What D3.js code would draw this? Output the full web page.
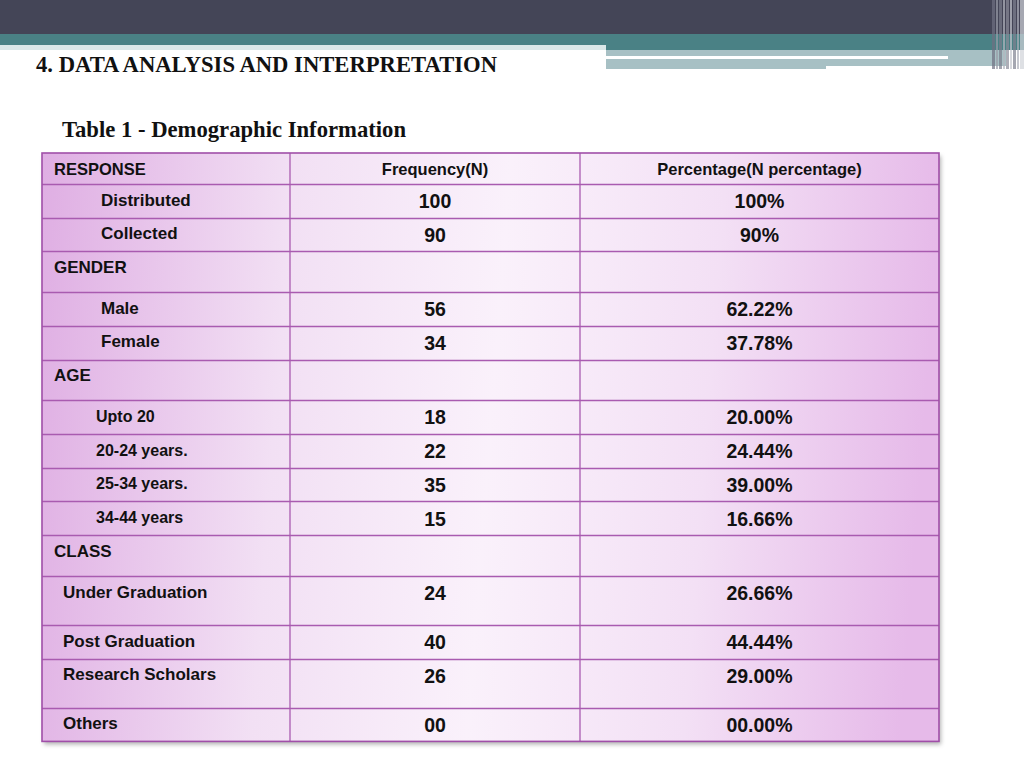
<!DOCTYPE html>
<html>
<head>
<meta charset="utf-8">
<script src="https://cdn.jsdelivr.net/npm/d3@7"></script>
<style>
  body { margin: 0; background: #fff; }
  svg { display: block; }
</style>
</head>
<body>
<div id="chart"></div>
<script>
// table content
var columns = ['RESPONSE', 'Frequency(N)', 'Percentage(N percentage)'];

var labels = ['Distributed', 'Collected', 'GENDER', 'Male', 'Female', 'AGE',
    'Upto 20', '20-24 years.', '25-34 years.', '34-44 years', 'CLASS',
    'Under Graduation', 'Post Graduation', 'Research Scholars', 'Others'];

// row kind: section heading, item, or item with an extra tall cell
var kinds = ['item', 'item', 'section', 'item', 'item', 'section',
    'item', 'item', 'item', 'item', 'section',
    'tall', 'item', 'tall', 'item'];

// which group the row belongs to (drives the label indent)
var groups = ['response', 'response', 'gender', 'gender', 'gender', 'age',
    'age', 'age', 'age', 'age', 'class',
    'class', 'class', 'class', 'class'];

var frequency = ['100', '90', '', '56', '34', '', '18', '22', '35', '15', '',
    '24', '40', '26', '00'];

var percentage = ['100%', '90%', '', '62.22%', '37.78%', '', '20.00%', '24.44%',
    '39.00%', '16.66%', '', '26.66%', '44.44%', '29.00%', '00.00%'];

var width = 1024, height = 768;

var svg = d3.select('#chart').append('svg')
    .attr('width', width)
    .attr('height', height);

var defs = svg.append('defs');

var grad = defs.append('linearGradient')
    .attr('id', 'cellFill')
    .attr('gradientUnits', 'userSpaceOnUse')
    .attr('x1', 42).attr('y1', 153)
    .attr('x2', 939).attr('y2', 220);
grad.append('stop').attr('offset', '0%').attr('stop-color', '#dfaee3');
grad.append('stop').attr('offset', '28%').attr('stop-color', '#f2e0f4');
grad.append('stop').attr('offset', '52%').attr('stop-color', '#faf1fb');
grad.append('stop').attr('offset', '76%').attr('stop-color', '#f3e0f5');
grad.append('stop').attr('offset', '100%').attr('stop-color', '#e6bae9');

var shadow = defs.append('filter').attr('id', 'shadow')
    .attr('x', '-5%').attr('y', '-5%').attr('width', '110%').attr('height', '110%');
shadow.append('feDropShadow')
    .attr('dx', 2).attr('dy', 3).attr('stdDeviation', 2)
    .attr('flood-color', '#000').attr('flood-opacity', 0.3);

// ---- slide header bands ----
var head = svg.append('g');
head.append('rect').attr('x', 0).attr('y', 0).attr('width', width).attr('height', 35).attr('fill', '#444557');
head.append('rect').attr('x', 0).attr('y', 34).attr('width', width).attr('height', 16).attr('fill', '#4a8185');
head.append('rect').attr('x', 606).attr('y', 50).attr('width', 400).attr('height', 19).attr('fill', '#a7c0c4');
head.append('rect').attr('x', 606).attr('y', 56).attr('width', 342).attr('height', 3).attr('fill', '#ffffff');
head.append('rect').attr('x', 826).attr('y', 66).attr('width', 180).attr('height', 4).attr('fill', '#ffffff');
head.append('rect').attr('x', 0).attr('y', 45).attr('width', 606).attr('height', 40).attr('fill', '#ffffff');
head.append('rect').attr('x', 0).attr('y', 45).attr('width', 606).attr('height', 5).attr('fill', '#dbe7e8');

// vertical stripes at the right edge
var stripes = [
    {x: 992, w: 3, c: '#6f7181'}, {x: 996, w: 2, c: '#9a9ca8'}, {x: 999, w: 3, c: '#7b7d8c'},
    {x: 1003, w: 2, c: '#b3b6bf'}, {x: 1006, w: 3, c: '#8a8c99'}, {x: 1010, w: 2, c: '#c5c8cf'},
    {x: 1013, w: 3, c: '#7f8190'}, {x: 1017, w: 2, c: '#aeb1bb'}, {x: 1020, w: 4, c: '#d0d3d9'}
];
head.selectAll('rect.stripe')
    .data(stripes)
    .join('rect')
    .attr('class', 'stripe')
    .attr('x', function(d) { return d.x; })
    .attr('y', 0)
    .attr('width', function(d) { return d.w; })
    .attr('height', 69)
    .attr('fill', function(d) { return d.c; })
    .attr('opacity', 0.7);

svg.append('text')
    .attr('x', 36)
    .attr('y', 72)
    .attr('font-family', '"Liberation Serif", "Times New Roman", serif')
    .attr('font-weight', 'bold')
    .attr('font-size', '23px')
    .attr('textLength', 461)
    .attr('lengthAdjust', 'spacingAndGlyphs')
    .attr('fill', '#111')
    .text('4. DATA ANALYSIS AND INTERPRETATION');

svg.append('text')
    .attr('x', 62)
    .attr('y', 137)
    .attr('font-family', '"Liberation Serif", "Times New Roman", serif')
    .attr('font-weight', 'bold')
    .attr('font-size', '23px')
    .attr('textLength', 344)
    .attr('lengthAdjust', 'spacingAndGlyphs')
    .attr('fill', '#111')
    .text('Table 1 - Demographic Information');

// ---- table ----
var rowHeight = {header: 31, item: 33.7, section: 40.8, tall: 49};
var indent = {response: 59, gender: 59, age: 54, 'class': 21};

var rows = labels.map(function(l, i) {
    return {label: l, kind: kinds[i], group: groups[i], freq: frequency[i], pct: percentage[i]};
});

var tableTop = 153;
var yPos = [tableTop + rowHeight.header];
rows.forEach(function(r, i) {
    r.y = yPos[i];
    r.h = rowHeight[r.kind];
    yPos.push(r.y + r.h);
});
var tableBottom = yPos[yPos.length - 1];

var colEdges = [42, 290, 580, 939];
var x = d3.scaleOrdinal().domain([0, 1, 2]).range(colEdges.slice(0, 3));
var colW = function(i) { return colEdges[i + 1] - colEdges[i]; };

var table = svg.append('g');

table.append('rect')
    .attr('x', colEdges[0])
    .attr('y', tableTop)
    .attr('width', colEdges[3] - colEdges[0])
    .attr('height', tableBottom - tableTop)
    .attr('fill', 'url(#cellFill)')
    .attr('filter', 'url(#shadow)');

// horizontal rules
table.selectAll('line.h')
    .data(yPos.slice(0, yPos.length - 1))
    .join('line')
    .attr('class', 'h')
    .attr('x1', colEdges[0]).attr('x2', colEdges[3])
    .attr('y1', function(d) { return Math.round(d) + 0.5; })
    .attr('y2', function(d) { return Math.round(d) + 0.5; })
    .attr('stroke', '#a95bb0')
    .attr('stroke-width', 1.3);

// vertical rules
table.selectAll('line.v')
    .data(colEdges.slice(1, 3))
    .join('line')
    .attr('class', 'v')
    .attr('x1', function(d) { return d; })
    .attr('x2', function(d) { return d; })
    .attr('y1', tableTop).attr('y2', tableBottom)
    .attr('stroke', '#a95bb0')
    .attr('stroke-width', 1.3);

table.append('rect')
    .attr('x', colEdges[0])
    .attr('y', tableTop)
    .attr('width', colEdges[3] - colEdges[0])
    .attr('height', tableBottom - tableTop)
    .attr('fill', 'none')
    .attr('stroke', '#a04fa8')
    .attr('stroke-width', 1.6);

var font = '"Liberation Sans", Arial, Helvetica, sans-serif';

// header row
table.selectAll('text.head')
    .data(columns)
    .join('text')
    .attr('class', 'head')
    .attr('x', function(d, i) { return i === 0 ? x(i) + 12 : x(i) + colW(i) / 2; })
    .attr('y', tableTop + 22)
    .attr('text-anchor', function(d, i) { return i === 0 ? 'start' : 'middle'; })
    .attr('font-family', font)
    .attr('font-weight', 'bold')
    .attr('font-size', '16.5px')
    .attr('fill', '#111')
    .text(function(d) { return d; });

// first column labels
table.selectAll('text.label')
    .data(rows)
    .join('text')
    .attr('class', 'label')
    .attr('x', function(d) { return x(0) + (d.kind === 'section' ? 12 : indent[d.group]); })
    .attr('y', function(d) { return d.y + 21.5; })
    .attr('font-family', font)
    .attr('font-weight', 'bold')
    .attr('font-size', function(d) { return d.group === 'age' && d.kind !== 'section' ? '16px' : '17px'; })
    .attr('fill', '#111')
    .text(function(d) { return d.label; });

// value columns
[['freq', 1], ['pct', 2]].forEach(function(c) {
    table.selectAll('text.' + c[0])
        .data(rows.filter(function(r) { return r[c[0]] !== ''; }))
        .join('text')
        .attr('class', c[0])
        .attr('x', x(c[1]) + colW(c[1]) / 2)
        .attr('y', function(d) { return d.y + 24; })
        .attr('text-anchor', 'middle')
        .attr('font-family', font)
        .attr('font-weight', 'bold')
        .attr('font-size', '19.5px')
        .attr('fill', '#111')
        .text(function(d) { return d[c[0]]; });
});
</script>
</body>
</html>
